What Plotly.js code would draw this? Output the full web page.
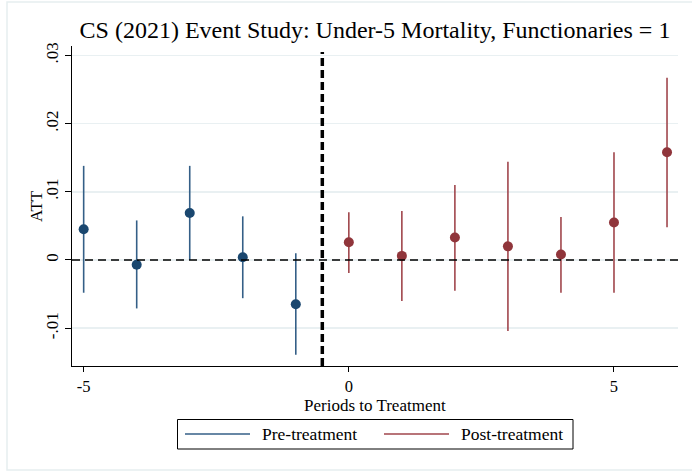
<!DOCTYPE html>
<html><head><meta charset="utf-8">
<script src="https://cdn.plot.ly/plotly-3.0.1.min.js"></script>
<style>html,body{margin:0;padding:0;background:#fff}#chart{width:692px;height:474px}</style>
</head><body><div id="chart"></div>
<script>
// Data
const prePeriods  = [-5, -4, -3, -2, -1];
const preATT      = [0.0045, -0.0007, 0.0069, 0.0004, -0.0065];
const preLower    = [-0.0048, -0.0071, 0.0000, -0.0056, -0.0139];
const preUpper    = [0.0138, 0.0058, 0.0138, 0.0064, 0.0010];

const postPeriods = [0, 1, 2, 3, 4, 5, 6];
const postATT     = [0.0026, 0.0006, 0.0033, 0.0020, 0.0008, 0.0055, 0.0158];
const postLower   = [-0.0019, -0.0060, -0.0045, -0.0104, -0.0048, -0.0048, 0.0048];
const postUpper   = [0.0070, 0.0072, 0.0110, 0.0144, 0.0063, 0.0158, 0.0267];

const yTickVals = [-0.01, 0, 0.01, 0.02, 0.03];
const yTickText = ['-.01', '0', '.01', '.02', '.03'];
const xTickVals = [-5, 0, 5];
const xTickText = ['-5', '0', '5'];
const legendNames = ['Pre-treatment', 'Post-treatment'];
const xTitle = 'Periods to Treatment';
const yTitle = 'ATT';

const navy = 'rgb(26,71,111)', navyLine = 'rgb(52,95,135)';
const maroon = 'rgb(144,53,59)', maroonLine = 'rgb(160,70,76)';

function segs(xs, lo, hi) {
  const x = [], y = [];
  xs.forEach((v, i) => { x.push(v, v, null); y.push(lo[i], hi[i], null); });
  return {x, y};
}
const preS = segs(prePeriods, preLower, preUpper);
const postS = segs(postPeriods, postLower, postUpper);

const font = 'Liberation Serif, Times New Roman, serif';
const traces = [
  {x: preS.x, y: preS.y, mode: 'lines', name: legendNames[0], line: {color: navyLine, width: 1.6}, hoverinfo: 'skip', showlegend: false},
  {x: postS.x, y: postS.y, mode: 'lines', name: legendNames[1], line: {color: maroonLine, width: 1.6}, hoverinfo: 'skip', showlegend: false},
  {x: prePeriods, y: preATT, mode: 'markers', showlegend: false, marker: {color: navy, size: 10}},
  {x: postPeriods, y: postATT, mode: 'markers', showlegend: false, marker: {color: maroon, size: 10}}
];

const L = 72, R = 14, T = 46, B = 108, W = 692, H = 474;
const pw = W - L - R, ph = H - T - B;
const px = v => (v - L) / pw, py = v => (H - B - v) / ph;

const legY = py(434);
const layout = {
  width: W, height: H,
  margin: {l: L, r: R, t: T, b: B, pad: 0},
  paper_bgcolor: '#fff', plot_bgcolor: '#fff',
  font: {family: font, color: '#000', size: 17},
  title: {text: 'CS (2021) Event Study: Under-5 Mortality, Functionaries = 1',
          font: {family: font, size: 24, color: '#000'},
          x: 0.5, xref: 'paper', xanchor: 'center', y: 1 - 30 / H, yref: 'container', yanchor: 'middle'},
  xaxis: {range: [-5.22, 6.207], tickvals: xTickVals, ticktext: xTickText,
          showgrid: false, zeroline: false, showline: true, linecolor: '#000', linewidth: 1,
          ticks: 'outside', ticklen: 5, tickcolor: '#000', tickwidth: 1,
          tickfont: {family: font, size: 16.5}},
  yaxis: {range: [-0.01554, 0.03137], tickvals: yTickVals, ticktext: yTickText, tickangle: -90,
          showgrid: true, gridcolor: '#e9f0f2', gridwidth: 1.5,
          zeroline: false, showline: true, linecolor: '#000', linewidth: 1,
          ticks: 'outside', ticklen: 6, tickcolor: '#000', tickwidth: 1,
          tickfont: {family: font, size: 17}},
  showlegend: false,
  annotations: [
    {text: xTitle, xref: 'paper', yref: 'paper', x: 0.5, y: py(405), xanchor: 'center', yanchor: 'middle',
     borderpad: 0, showarrow: false, font: {family: font, size: 17, color: '#000'}},
    {text: yTitle, xref: 'paper', yref: 'paper', x: px(36), y: 0.5, xanchor: 'center', yanchor: 'middle',
     borderpad: 0, textangle: -90, showarrow: false, font: {family: font, size: 17, color: '#000'}},
    {text: legendNames[0], xref: 'paper', yref: 'paper', x: px(260), y: legY, xanchor: 'left', yanchor: 'middle',
     showarrow: false, font: {family: font, size: 17.5, color: '#000'}},
    {text: legendNames[1], xref: 'paper', yref: 'paper', x: px(459), y: legY, xanchor: 'left', yanchor: 'middle',
     showarrow: false, font: {family: font, size: 17.5, color: '#000'}}
  ],
  shapes: [
    {type: 'line', xref: 'paper', yref: 'y', x0: 0, x1: 1, y0: 0, y1: 0,
     line: {color: '#000', width: 1.5, dash: '8px,5px'}, layer: 'above'},
    {type: 'line', xref: 'x', yref: 'y', x0: -0.5, x1: -0.5, y0: -0.01554, y1: 0.0305,
     line: {color: '#000', width: 3.5, dash: '8px,4px'}, layer: 'above'},
    {type: 'rect', xref: 'paper', yref: 'paper', x0: px(7), x1: px(700), y0: py(470), y1: py(2),
     line: {color: '#e6eef0', width: 1.5}, fillcolor: 'rgba(0,0,0,0)', layer: 'below'},
    {type: 'rect', xref: 'paper', yref: 'paper', x0: px(177.5), x1: px(573), y0: py(449), y1: py(419.5),
     line: {color: '#000', width: 1}, fillcolor: '#fff'},
    {type: 'line', xref: 'paper', yref: 'paper', x0: px(185), x1: px(250), y0: legY, y1: legY,
     line: {color: navyLine, width: 1.6}},
    {type: 'line', xref: 'paper', yref: 'paper', x0: px(384), x1: px(449), y0: legY, y1: legY,
     line: {color: maroonLine, width: 1.6}}
  ]
};

Plotly.newPlot('chart', traces, layout, {displayModeBar: false, staticPlot: true});
</script>
</body></html>
